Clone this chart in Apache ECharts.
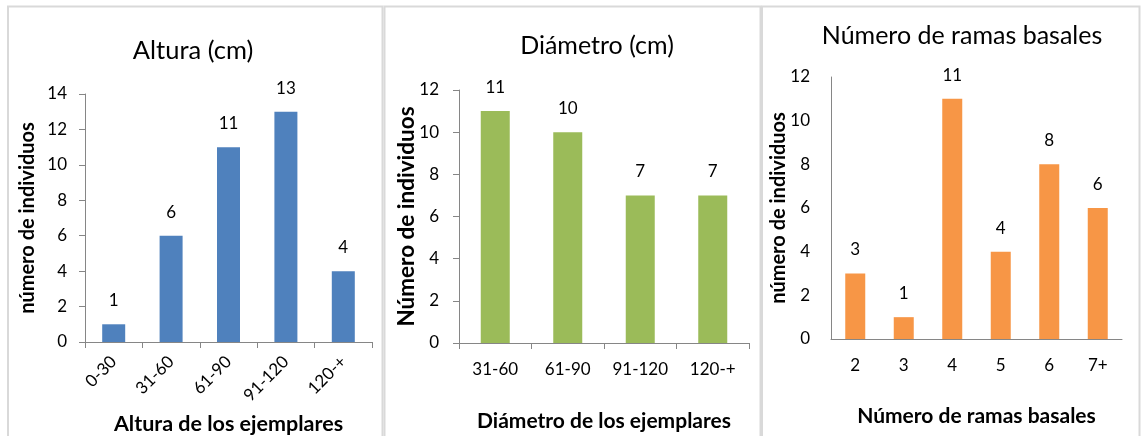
<!DOCTYPE html>
<html>
<head>
<meta charset="utf-8">
<title>Ejemplares: altura, diámetro y ramas basales</title>
<script src="https://cdn.jsdelivr.net/npm/echarts@6/dist/echarts.min.js"></script>
<style>
  html, body { margin: 0; padding: 0; background: #fff; }
  #chart { width: 1141px; height: 436px; }
</style>
</head>
<body>
<div id="chart"></div>
<script>
// Altura de los ejemplares (cm)
const alturaCats = ['0-30', '31-60', '61-90', '91-120', '120-+'];
const alturaVals = [1, 6, 11, 13, 4];

// Diámetro de los ejemplares (cm)
const diametroCats = ['31-60', '61-90', '91-120', '120-+'];
const diametroVals = [11, 10, 7, 7];

// Número de ramas basales
const ramasCats = ['2', '3', '4', '5', '6', '7+'];
const ramasVals = [3, 1, 11, 4, 8, 6];

const FONT = 'Lato, "Open Sans", sans-serif';
const AXIS_GRAY = '#868686';
const BORDER = '#d9d9d9';

const chart = echarts.init(document.getElementById('chart'), null, { renderer: 'canvas' });

// centred title; the component's own padding is taken off the anchor
function titleAt(text, cx, top, size) {
  return {
    text: text,
    left: cx - 5,
    top: top,
    textAlign: 'center',
    textStyle: { fontFamily: FONT, fontSize: size, fontWeight: 'normal', color: '#000' }
  };
}

function catAxis(idx, data, opts) {
  return {
    type: 'category',
    gridIndex: idx,
    data: data,
    name: opts.name,
    nameLocation: 'middle',
    nameGap: opts.nameGap,
    nameMoveOverlap: false,
    nameTextStyle: { fontFamily: FONT, fontSize: opts.nameSize, fontWeight: 'bold', color: '#000' },
    axisLine: { lineStyle: { color: AXIS_GRAY, width: 1 } },
    axisTick: { show: opts.ticks, length: 6, alignWithLabel: false, lineStyle: { color: AXIS_GRAY } },
    axisLabel: {
      fontFamily: FONT, fontSize: opts.labelSize, color: '#000',
      margin: opts.labelMargin, rotate: opts.rotate || 0, interval: 0
    },
    splitLine: { show: false }
  };
}

function valAxis(idx, max, opts) {
  return {
    type: 'value',
    gridIndex: idx,
    min: 0,
    max: max,
    interval: 2,
    name: opts.name,
    nameLocation: 'middle',
    nameGap: opts.nameGap,
    nameMoveOverlap: false,
    nameTextStyle: { fontFamily: FONT, fontSize: opts.nameSize, fontWeight: 'bold', color: '#000' },
    axisLine: { show: true, lineStyle: { color: AXIS_GRAY, width: 1 } },
    axisTick: { show: opts.ticks, length: 6, lineStyle: { color: AXIS_GRAY } },
    axisLabel: { fontFamily: FONT, fontSize: opts.labelSize, color: '#000', margin: opts.labelMargin },
    splitLine: { show: false }
  };
}

function barSeries(idx, vals, color, width) {
  return {
    type: 'bar',
    xAxisIndex: idx,
    yAxisIndex: idx,
    data: vals,
    barWidth: width,
    itemStyle: { color: color },
    label: {
      show: true, position: 'top', distance: 15,
      fontFamily: FONT, fontSize: 17, color: '#000'
    },
    silent: true,
    animation: false
  };
}

function gridAt(left, top, width, height) {
  return { left: left, top: top, width: width, height: height, containLabel: false, outerBoundsMode: 'none' };
}

chart.setOption({
  animation: false,
  backgroundColor: '#fff',
  title: [
    titleAt('Altura (cm)', 193, 33, 25.5),
    titleAt('Diámetro (cm)', 597, 28, 25),
    titleAt('Número de ramas basales', 962, 18, 25)
  ],
  grid: [
    gridAt(85, 94, 287, 248),
    gridAt(459, 90, 290, 253),
    gridAt(831, 77, 291, 262)
  ],
  xAxis: [
    catAxis(0, alturaCats, { name: 'Altura de los ejemplares', nameGap: 71, nameSize: 21.5, labelSize: 17, labelMargin: 17, rotate: 45, ticks: true }),
    catAxis(1, diametroCats, { name: 'Diámetro de los ejemplares', nameGap: 68, nameSize: 21, labelSize: 17, labelMargin: 18, ticks: true }),
    catAxis(2, ramasCats, { name: 'Número de ramas basales', nameGap: 67, nameSize: 21, labelSize: 17, labelMargin: 18, ticks: false })
  ],
  yAxis: [
    valAxis(0, 14, { name: 'número de individuos', nameGap: 47, nameSize: 20, labelSize: 17, labelMargin: 18, ticks: true }),
    valAxis(1, 12, { name: 'Número de individuos', nameGap: 41, nameSize: 22.5, labelSize: 17, labelMargin: 20, ticks: true }),
    valAxis(2, 12, { name: 'número de individuos', nameGap: 42, nameSize: 20, labelSize: 17, labelMargin: 21, ticks: false })
  ],
  series: [
    barSeries(0, alturaVals, '#4f81bd', 23),
    barSeries(1, diametroVals, '#9bbb59', 29),
    barSeries(2, ramasVals, '#f79646', 20)
  ],
  graphic: [
    // panel frames
    { type: 'rect', silent: true, shape: { x: 8, y: 6.5, width: 374.5, height: 440 }, style: { fill: null, stroke: BORDER, lineWidth: 2 } },
    { type: 'rect', silent: true, shape: { x: 384.5, y: 6.5, width: 376, height: 440 }, style: { fill: null, stroke: BORDER, lineWidth: 2 } },
    { type: 'rect', silent: true, shape: { x: 762, y: 6.5, width: 377.5, height: 440 }, style: { fill: null, stroke: BORDER, lineWidth: 2 } }
  ]
});
</script>
</body>
</html>
